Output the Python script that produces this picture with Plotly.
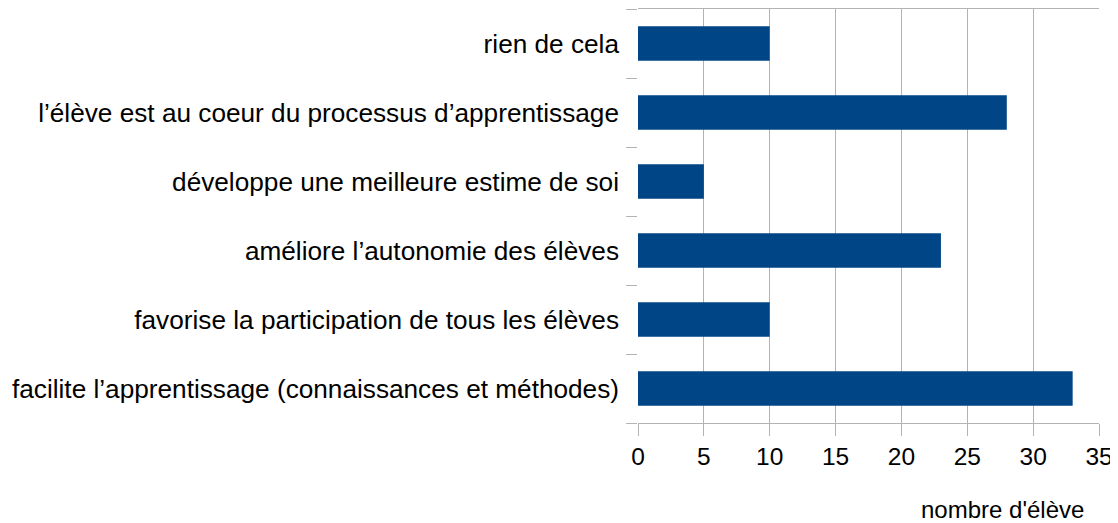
import plotly.graph_objects as go

categories = [
    "facilite l’apprentissage (connaissances et méthodes)",
    "favorise la participation de tous les élèves",
    "améliore l’autonomie des élèves",
    "développe une meilleure estime de soi",
    "l’élève est au coeur du processus d’apprentissage",
    "rien de cela",
]
values = [33, 10, 23, 5, 28, 10]
x_ticks = [0, 5, 10, 15, 20, 25, 30, 35]
x_title = "nombre d'élève"

fig = go.Figure(go.Bar(
    x=values, y=categories, orientation="h",
    marker=dict(color="#004586", line=dict(width=0)),
))

# the page body has an 8px margin; the figure is shrunk so it fits the window
fig.update_layout(
    width=1110, height=515,
    margin=dict(l=630, r=19, t=1, b=100, pad=0),
    plot_bgcolor="white", paper_bgcolor="white",
    font=dict(family="Liberation Sans, Arial, sans-serif", size=24, color="black"),
    bargap=0.5,
    showlegend=False,
)
fig.update_xaxes(
    range=[0, 35], tickvals=x_ticks, showgrid=True, gridcolor="#b3b3b3", gridwidth=1,
    zeroline=False, showline=True, linecolor="#b3b3b3", mirror=True,
    ticks="outside", ticklen=12, tickcolor="#b3b3b3",
    tickfont=dict(size=24.5),
)
fig.update_yaxes(
    type="category", tickson="boundaries", ticks="outside", ticklen=11,
    tickcolor="#b3b3b3", showgrid=False, showline=False, zeroline=False,
    tickfont=dict(size=26.2), ticklabelstandoff=18,
)
fig.add_annotation(
    text=x_title, xref="paper", yref="paper", x=1.0, y=0, xshift=-13, yshift=-86,
    xanchor="right", yanchor="middle", showarrow=False, font=dict(size=24),
)
fig.write_html("out.html")
